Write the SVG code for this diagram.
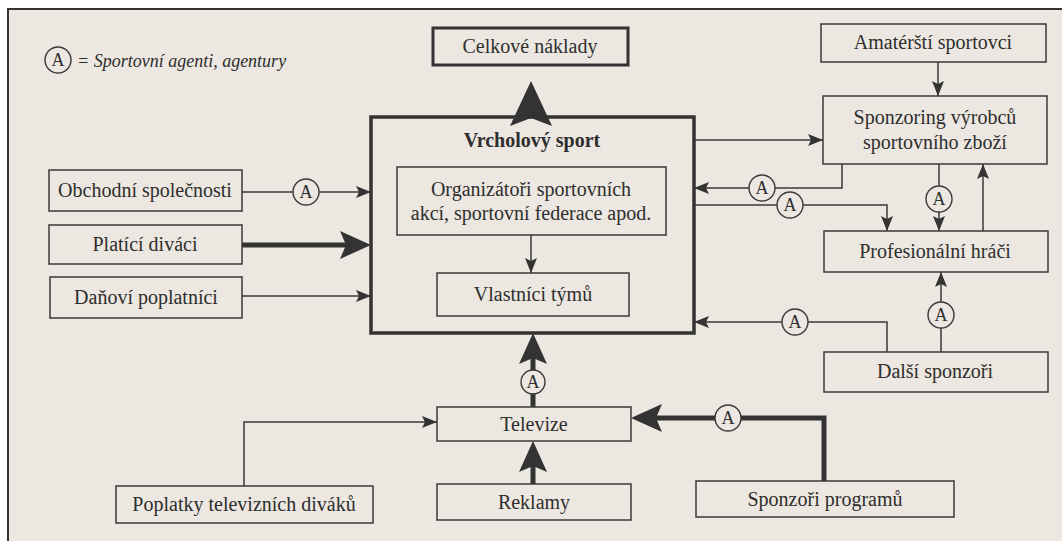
<svg xmlns="http://www.w3.org/2000/svg" width="1062" height="543" viewBox="0 0 1062 543">
<style>
.t{font-family:"Liberation Serif","Times New Roman",serif;font-size:20px;fill:#2e2e2e;text-anchor:middle}
.b{font-weight:bold}
.box{fill:none;stroke:#3a3a3a;stroke-width:1.5}
.thick{fill:none;stroke:#333;stroke-width:3.5}
.ln{fill:none;stroke:#3a3a3a;stroke-width:1.5}
.lnb{fill:none;stroke:#333;stroke-width:5}
.ag{fill:#ece7e0;stroke:#3a3a3a;stroke-width:1.4}
.at{font-family:"Liberation Serif","Times New Roman",serif;font-size:18px;fill:#2e2e2e;text-anchor:middle}
</style>
<defs>
<marker id="ah" markerUnits="userSpaceOnUse" markerWidth="16" markerHeight="12" refX="15" refY="6" orient="auto"><path d="M0,0 L15,6 L0,12 L3,6 Z" fill="#333"/></marker>
<marker id="ahb" markerUnits="userSpaceOnUse" markerWidth="32" markerHeight="28" refX="19" refY="14" orient="auto"><path d="M0,0 L31,14 L0,28 L6,14 Z" fill="#333"/></marker>
<marker id="ahc" markerUnits="userSpaceOnUse" markerWidth="46" markerHeight="42" refX="30" refY="21" orient="auto"><path d="M0,0 L45,21 L0,42 L8,21 Z" fill="#333"/></marker>
</defs>
<rect x="0" y="0" width="1062" height="543" fill="#ffffff"/>
<rect x="8" y="9" width="1054" height="532" fill="#ece7e0"/>
<path d="M8,541 V9 H1062" fill="none" stroke="#333" stroke-width="2"/>

<g id="legend">
<circle cx="58" cy="60" r="13" class="ag"/>
<text x="58" y="66" class="at">A</text>
<text x="77" y="67" style="font-family:'Liberation Serif','Times New Roman',serif;font-size:18px;font-style:italic;fill:#2e2e2e">= Sportovní agenti, agentury</text>
</g>

<g id="connectors">
<line x1="531" y1="117" x2="531" y2="96" class="lnb" style="stroke-width:6" marker-end="url(#ahc)"/>
<line x1="242" y1="192" x2="371" y2="192" class="ln" marker-end="url(#ah)"/>
<line x1="242" y1="245" x2="359" y2="245" class="lnb" marker-end="url(#ahb)"/>
<line x1="242" y1="296" x2="371" y2="296" class="ln" marker-end="url(#ah)"/>
<line x1="531" y1="235" x2="531" y2="273" class="ln" marker-end="url(#ah)"/>
<line x1="694" y1="140" x2="823" y2="140" class="ln" marker-end="url(#ah)"/>
<polyline points="842,164 842,188 694,188" class="ln" marker-end="url(#ah)"/>
<polyline points="694,205 887,205 887,231" class="ln" marker-end="url(#ah)"/>
<line x1="939" y1="164" x2="939" y2="231" class="ln" marker-end="url(#ah)"/>
<line x1="983" y1="231" x2="983" y2="164" class="ln" marker-end="url(#ah)"/>
<line x1="938" y1="62" x2="938" y2="96" class="ln" marker-end="url(#ah)"/>
<line x1="941" y1="352" x2="941" y2="272" class="ln" marker-end="url(#ah)"/>
<polyline points="887,352 887,322 694,322" class="ln" marker-end="url(#ah)"/>
<line x1="533" y1="407" x2="533" y2="345" class="lnb" marker-end="url(#ahb)"/>
<line x1="533" y1="484" x2="533" y2="453" class="lnb" marker-end="url(#ahb)"/>
<polyline points="244,486 244,422 437,422" class="ln" marker-end="url(#ah)"/>
<polyline points="824,481 824,418 643,418" class="lnb" marker-end="url(#ahb)"/>
<g id="agents">
<circle cx="306" cy="192" r="13" class="ag"/><text x="306" y="198" class="at">A</text>
<circle cx="762" cy="188" r="13" class="ag"/><text x="762" y="194" class="at">A</text>
<circle cx="790" cy="205" r="13" class="ag"/><text x="790" y="211" class="at">A</text>
<circle cx="939" cy="199" r="13" class="ag"/><text x="939" y="205" class="at">A</text>
<circle cx="941" cy="315" r="13" class="ag"/><text x="941" y="321" class="at">A</text>
<circle cx="795" cy="322" r="13" class="ag"/><text x="795" y="328" class="at">A</text>
<circle cx="533" cy="382" r="12" class="ag"/><text x="533" y="388" class="at">A</text>
<circle cx="728" cy="418" r="13" class="ag"/><text x="728" y="424" class="at">A</text>
</g>
</g>

<g id="celkove"><rect x="433" y="28" width="195" height="37" class="thick" style="stroke-width:3"/><text x="530" y="53" class="t">Celkové náklady</text></g>
<g id="vrcholovy"><rect x="371" y="117" width="323" height="216" class="thick"/><text x="532" y="147" class="t b">Vrcholový sport</text></g>
<g id="organizatori"><rect x="397" y="167" width="269" height="68" class="box"/><text x="531" y="196" class="t">Organizátoři sportovních</text><text x="531" y="220" class="t">akcí, sportovní federace apod.</text></g>
<g id="vlastnici"><rect x="437" y="273" width="192" height="43" class="box"/><text x="533" y="301" class="t">Vlastníci týmů</text></g>
<g id="obchodni"><rect x="49" y="170" width="193" height="41" class="box"/><text x="145" y="197" class="t">Obchodní společnosti</text></g>
<g id="platici"><rect x="49" y="225" width="193" height="39" class="box"/><text x="145" y="251" class="t">Platící diváci</text></g>
<g id="danovi"><rect x="50" y="277" width="192" height="41" class="box"/><text x="146" y="304" class="t">Daňoví poplatníci</text></g>
<g id="amaterski"><rect x="821" y="24" width="225" height="38" class="box"/><text x="933" y="49" class="t">Amatérští sportovci</text></g>
<g id="sponzoring"><rect x="823" y="96" width="224" height="68" class="box"/><text x="935" y="124" class="t">Sponzoring výrobců</text><text x="935" y="149" class="t">sportovního zboží</text></g>
<g id="profesionalni"><rect x="824" y="231" width="224" height="41" class="box"/><text x="935" y="258" class="t">Profesionální hráči</text></g>
<g id="dalsi"><rect x="824" y="352" width="224" height="40" class="box"/><text x="935" y="378" class="t">Další sponzoři</text></g>
<g id="televize"><rect x="437" y="407" width="194" height="34" class="box"/><text x="534" y="431" class="t">Televize</text></g>
<g id="reklamy"><rect x="437" y="484" width="194" height="36" class="box"/><text x="534" y="509" class="t">Reklamy</text></g>
<g id="poplatky"><rect x="116" y="486" width="257" height="37" class="box"/><text x="244" y="511" class="t">Poplatky televizních diváků</text></g>
<g id="sponzori-programu"><rect x="696" y="481" width="258" height="36" class="box"/><text x="825" y="506" class="t">Sponzoři programů</text></g>
</svg>
